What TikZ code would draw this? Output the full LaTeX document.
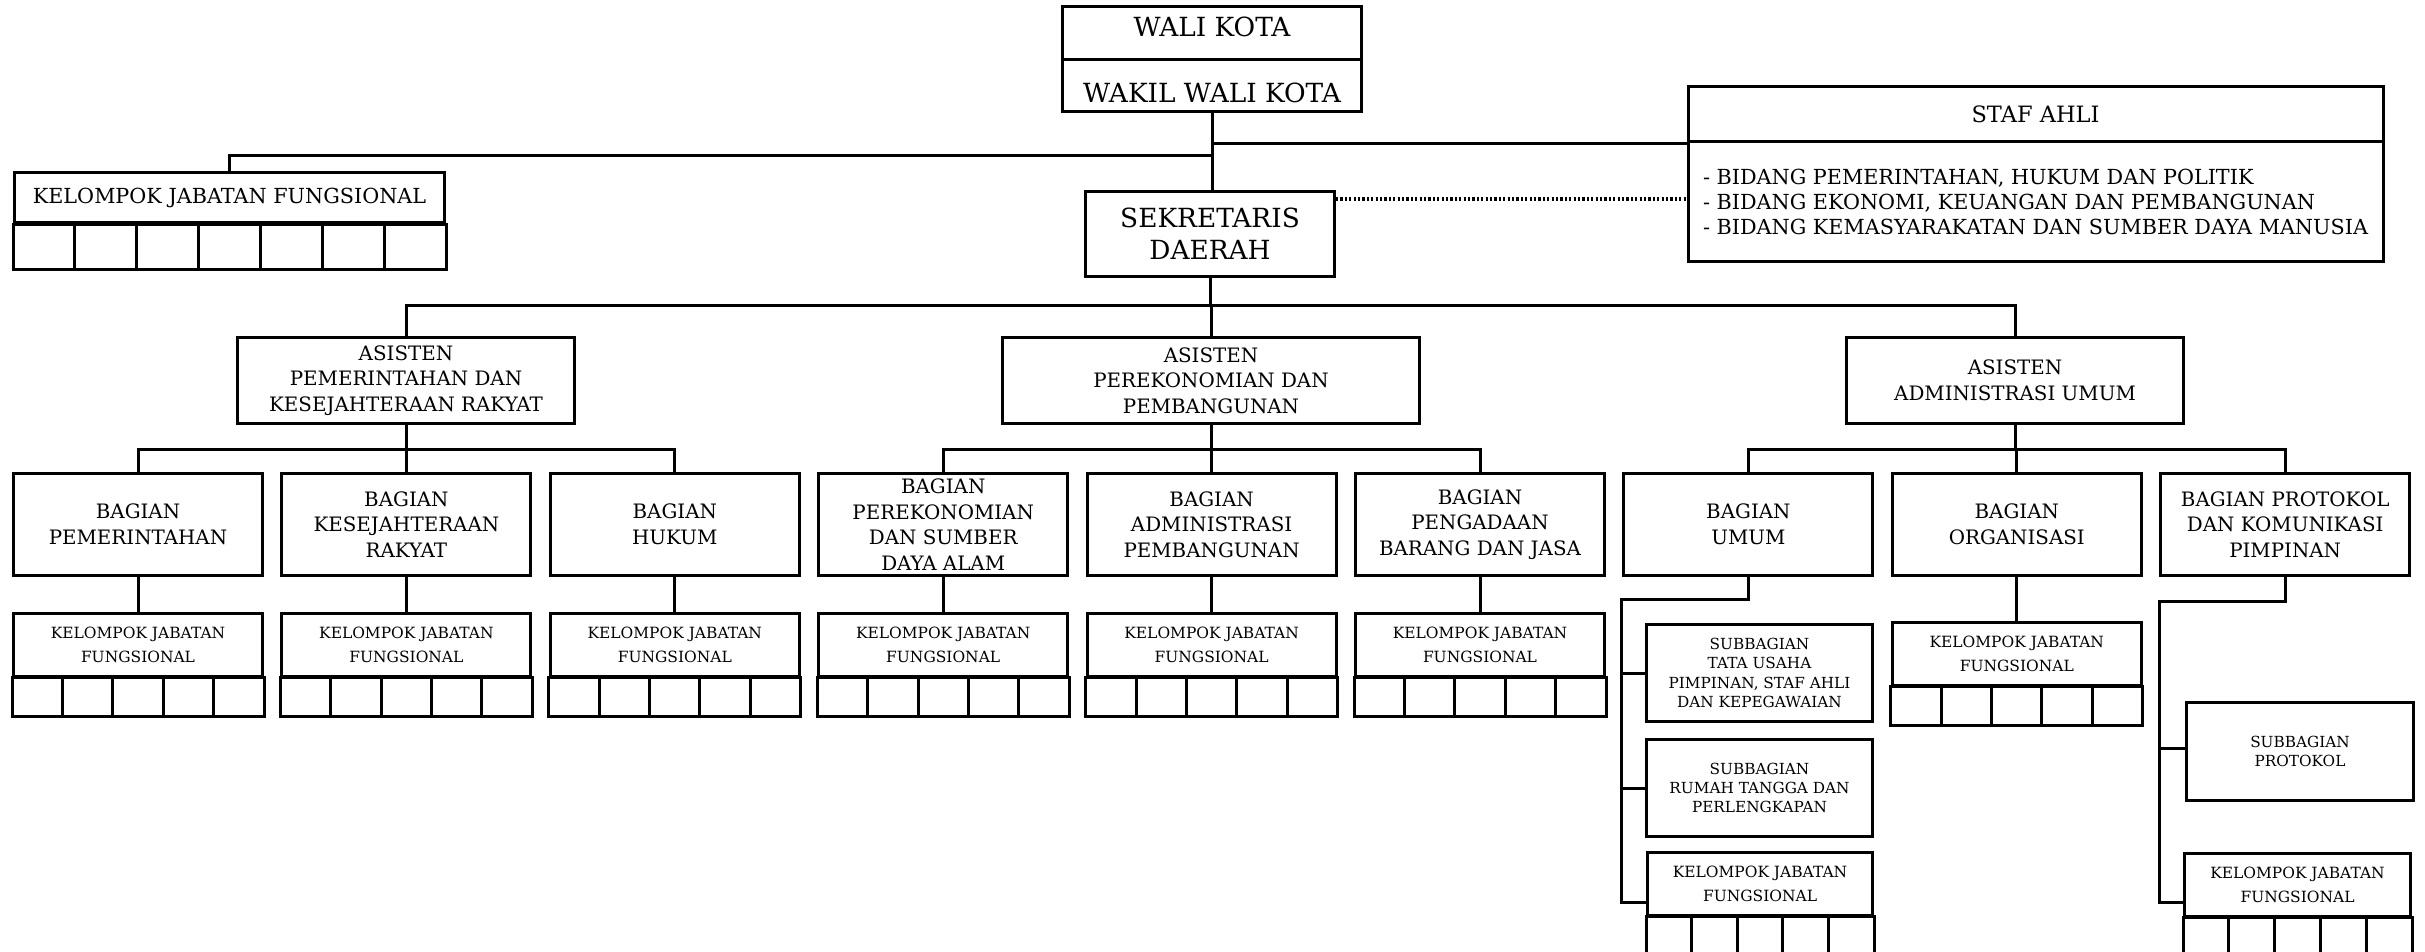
\documentclass[tikz,border=0pt]{standalone}
\usepackage{fontspec}
\setmainfont{DejaVu Serif}
\usetikzlibrary{positioning,calc}

\newcommand{\bigtext}{\fontsize{7.5}{9.1}\selectfont}
\newcommand{\midtext}{\fontsize{5.65}{7.3}\selectfont}
\newcommand{\widetext}{\fontsize{5.9}{7.2}\selectfont}
\newcommand{\kjftext}{\fontsize{4.4}{6.8}\selectfont}
\newcommand{\subtext}{\fontsize{4.35}{5.5}\selectfont}

\begin{document}
\begin{tikzpicture}[x=0.1mm,y=-0.1mm,on grid,
    box/.style={draw,line width=0.3mm,align=center,inner sep=0pt},
    link/.style={line width=0.3mm},
    cellgrid/.style={line width=0.3mm},
    staffline/.style={line width=0.35mm,dash pattern=on 0.22mm off 0.22mm},
    asisten/.style={box,font=\midtext,minimum height=8.6mm},
    bagian/.style={box,font=\midtext,minimum width=24.9mm,minimum height=10.2mm},
    kjf/.style={box,font=\kjftext,minimum width=24.9mm,minimum height=6.3mm},
    subbag/.style={box,font=\subtext,minimum height=9.7mm}]
  \useasboundingbox (0,0) rectangle (2425,952);

  % pimpinan
  \node[box,font=\bigtext,minimum width=29.9mm,minimum height=10.5mm] (walikota) at (1212,59.5)
    {WALI KOTA\\[3.4mm]WAKIL WALI KOTA};
  \draw[link] (walikota.west) -- (walikota.east);
  \node[box,font=\bigtext,minimum width=24.9mm,minimum height=8.5mm] (sekda) at (1210,234)
    {SEKRETARIS\\DAERAH};
  \node[box,font=\widetext,minimum width=43mm,minimum height=5mm] (kjftop) at (229.5,198)
    {KELOMPOK JABATAN FUNGSIONAL};
  \node[box,font=\fontsize{6.4}{7.5}\selectfont,minimum width=69.5mm,minimum height=5.5mm] (stafahli) at (2035.5,114.5)
    {STAF AHLI};
  \node[box,font=\widetext,align=left,minimum width=69.5mm,minimum height=12mm,below=8.75mm of stafahli] (stafbidang)
    {- BIDANG PEMERINTAHAN, HUKUM DAN POLITIK\\- BIDANG EKONOMI, KEUANGAN DAN PEMBANGUNAN\\- BIDANG KEMASYARAKATAN DAN SUMBER DAYA MANUSIA};

  % asisten
  \node[asisten,minimum width=33.7mm] (asisten1) at (406,380.5)
    {ASISTEN\\PEMERINTAHAN DAN\\KESEJAHTERAAN RAKYAT};
  \node[asisten,minimum width=41.7mm] (asisten2) at (1211,380.5)
    {ASISTEN\\PEREKONOMIAN DAN\\PEMBANGUNAN};
  \node[asisten,minimum width=33.7mm] (asisten3) at (2015,380.5)
    {ASISTEN\\ADMINISTRASI UMUM};

  % bagian
  \node[bagian] (bagpem) at (138,524.5) {BAGIAN\\PEMERINTAHAN};
  \node[bagian,right=26.84mm of bagpem] (bagkesra) {BAGIAN\\KESEJAHTERAAN\\RAKYAT};
  \node[bagian,right=26.84mm of bagkesra] (baghukum) {BAGIAN\\HUKUM};
  \node[bagian,right=26.84mm of baghukum] (bagekon) {BAGIAN\\PEREKONOMIAN\\DAN SUMBER\\DAYA ALAM};
  \node[bagian,right=26.84mm of bagekon] (bagadm) {BAGIAN\\ADMINISTRASI\\PEMBANGUNAN};
  \node[bagian,right=26.84mm of bagadm] (bagpbj) {BAGIAN\\PENGADAAN\\BARANG DAN JASA};
  \node[bagian,right=26.84mm of bagpbj] (bagumum) {BAGIAN\\UMUM};
  \node[bagian,right=26.84mm of bagumum] (bagorg) {BAGIAN\\ORGANISASI};
  \node[bagian,right=26.84mm of bagorg] (bagprot) {BAGIAN PROTOKOL\\DAN KOMUNIKASI\\PIMPINAN};

  % kelompok jabatan fungsional
  \foreach \b/\k in {bagpem/kjfpem,bagkesra/kjfkesra,baghukum/kjfhukum,bagekon/kjfekon,bagadm/kjfadm,bagpbj/kjfpbj}
    \node[kjf,below=12mm of \b] (\k) {KELOMPOK JABATAN\\FUNGSIONAL};
  \node[kjf,below=12.9mm of bagorg] (kjforg) {KELOMPOK JABATAN\\FUNGSIONAL};

  % subbagian
  \node[subbag,minimum width=22.6mm] (subtu) at (1759.5,673)
    {SUBBAGIAN\\TATA USAHA\\PIMPINAN, STAF AHLI\\DAN KEPEGAWAIAN};
  \node[subbag,minimum width=22.6mm,below=11.5mm of subtu] (subrt)
    {SUBBAGIAN\\RUMAH TANGGA DAN\\PERLENGKAPAN};
  \node[kjf,minimum width=22.5mm] (kjfumum) at (1760,883.5) {KELOMPOK JABATAN\\FUNGSIONAL};
  \node[subbag,minimum width=22.7mm,minimum height=9.8mm] (subprot) at (2300,751.5)
    {SUBBAGIAN\\PROTOKOL};
  \node[kjf,minimum width=22.6mm] (kjfprot) at (2297.5,884.5) {KELOMPOK JABATAN\\FUNGSIONAL};

  % kotak-kotak jabatan
  \draw[cellgrid] (kjftop.south west) rectangle ([yshift=-4.5mm]kjftop.south east);
  \foreach \i in {1,...,6}
    \draw[cellgrid] ($(kjftop.south west)!\i/7!(kjftop.south east)$) -- ++(0,-4.5mm);
  \foreach \k in {kjfpem,kjfkesra,kjfhukum,kjfekon,kjfadm,kjfpbj,kjforg,kjfumum,kjfprot}{
    \draw[cellgrid] (\k.south west) rectangle ([yshift=-3.9mm]\k.south east);
    \foreach \i in {1,...,4}
      \draw[cellgrid] ($(\k.south west)!\i/5!(\k.south east)$) -- ++(0,-3.9mm);
  }

  % garis komando
  \draw[link] (walikota.south) -- (walikota.south |- sekda.north);
  \draw[link] (stafahli.south west) -- (stafahli.south west -| walikota.south);
  \draw[link] (walikota.south |- 0,156) -| (kjftop.north);
  \draw[staffline] (sekda.east |- 0,199) -- (stafbidang.west |- 0,199);

  \draw[link] (sekda.south) -- (sekda.south |- 0,306);
  \draw[link] (asisten1.north) |- (asisten3.north |- 0,306) -- (asisten3.north);
  \draw[link] (asisten2.north) -- (asisten2.north |- 0,306);

  \foreach \a/\l/\m/\r in {asisten1/bagpem/bagkesra/baghukum,asisten2/bagekon/bagadm/bagpbj,asisten3/bagumum/bagorg/bagprot}{
    \draw[link] (\a.south) -- (\a.south |- 0,449);
    \draw[link] (\l.north) |- (\r.north |- 0,449) -- (\r.north);
    \draw[link] (\m.north) -- (\m.north |- 0,449);
  }

  \foreach \b/\k in {bagpem/kjfpem,bagkesra/kjfkesra,baghukum/kjfhukum,bagekon/kjfekon,bagadm/kjfadm,bagpbj/kjfpbj,bagorg/kjforg}
    \draw[link] (\b) -- (\k);

  \coordinate (umumrail) at (1621,599);
  \coordinate (umumend) at (1621,902);
  \draw[link] (bagumum.south) |- (umumrail) -- (umumend) -- (umumend -| kjfumum.west);
  \draw[link] (umumrail |- subtu.west) -- (subtu.west);
  \draw[link] (umumrail |- subrt.west) -- (subrt.west);

  \coordinate (protrail) at (2159,601);
  \coordinate (protend) at (2159,902);
  \draw[link] (bagprot.south) |- (protrail) -- (protend) -- (protend -| kjfprot.west);
  \draw[link] (protrail |- 0,748) -- (subprot.west |- 0,748);
\end{tikzpicture}
\end{document}
